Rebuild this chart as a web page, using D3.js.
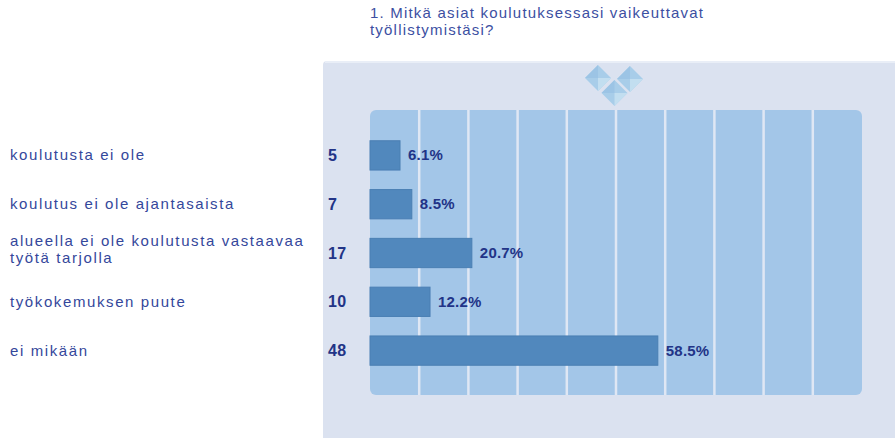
<!DOCTYPE html>
<html>
<head>
<meta charset="utf-8">
<script src="https://cdn.jsdelivr.net/npm/d3@7"></script>
<style>
  body { margin: 0; background: #ffffff; }
  svg { display: block; font-family: "Liberation Sans", Arial, sans-serif; }
</style>
</head>
<body>
<div id="chart"></div>
<script>
var titleLines = ["1. Mitkä asiat koulutuksessasi vaikeuttavat", "työllistymistäsi?"];
var categories = ["koulutusta ei ole", "koulutus ei ole ajantasaista", "alueella ei ole koulutusta vastaavaa työtä tarjolla", "työkokemuksen puute", "ei mikään"];
var labelLines = [["koulutusta ei ole"], ["koulutus ei ole ajantasaista"], ["alueella ei ole koulutusta vastaavaa", "työtä tarjolla"], ["työkokemuksen puute"], ["ei mikään"]];
var counts = [5, 7, 17, 10, 48];
var percents = [6.1, 8.5, 20.7, 12.2, 58.5];

var width = 895, height = 438;

var svg = d3.select("#chart").append("svg")
	.attr("width", width)
	.attr("height", height);

// outer panel
svg.append("rect")
	.attr("x", 323).attr("y", 61)
	.attr("width", 600).attr("height", 400)
	.attr("rx", 4)
	.attr("fill", "#dbe2f0");
svg.append("rect")
	.attr("x", 325).attr("y", 61)
	.attr("width", 600).attr("height", 2)
	.attr("fill", "#e9eef7");

var x = d3.scaleLinear().domain([0, 100]).range([370, 862]);
var y = d3.scaleBand().domain(categories).range([131, 375]).paddingInner(0.4).paddingOuter(0.2);

// plot area
svg.append("rect")
	.attr("x", x(0)).attr("y", 110)
	.attr("width", x(100) - x(0)).attr("height", 285)
	.attr("rx", 6)
	.attr("fill", "#a3c6e8");

// grid lines
svg.append("g").selectAll("line")
	.data(x.ticks(10).filter(function(d){ return d > 0 && d < 100; }))
	.join("line")
	.attr("x1", function(d){ return x(d); })
	.attr("x2", function(d){ return x(d); })
	.attr("y1", 110).attr("y2", 395)
	.attr("stroke", "#dfe7f4")
	.attr("stroke-width", 2.5);

// diamond decoration
var deco = svg.append("g");
var diamonds = [[598, 78], [630, 79], [614.5, 93]];
diamonds.forEach(function(c){
	var r = 13;
	var cx = c[0], cy = c[1];
	deco.append("path")
		.attr("d", "M" + cx + "," + (cy - r) + "L" + (cx + r) + "," + cy + "L" + cx + "," + (cy + r) + "L" + (cx - r) + "," + cy + "Z")
		.attr("fill", "#a8cde9");
	deco.append("path")
		.attr("d", "M" + cx + "," + cy + "L" + (cx + r) + "," + cy + "L" + cx + "," + (cy + r) + "Z")
		.attr("fill", "#c2def0");
	deco.append("path")
		.attr("d", "M" + cx + "," + (cy - r) + "L" + (cx - r) + "," + cy + "L" + cx + "," + cy + "Z")
		.attr("fill", "#9cc4e5");
});

// bars
svg.append("g").selectAll("rect")
	.data(categories)
	.join("rect")
	.attr("x", x(0))
	.attr("y", function(d){ return y(d); })
	.attr("width", function(d, i){ return x(percents[i]) - x(0); })
	.attr("height", y.bandwidth())
	.attr("fill", "#5188bd")
	.attr("stroke", "#4a7fb3")
	.attr("stroke-width", 1);

// percent labels
svg.append("g").selectAll("text")
	.data(categories)
	.join("text")
	.attr("x", function(d, i){ return x(percents[i]) + 8; })
	.attr("y", function(d){ return y(d) + y.bandwidth() / 2 + 5; })
	.attr("font-size", "15px")
	.attr("font-weight", "bold")
	.attr("letter-spacing", "0.2px")
	.attr("fill", "#223487")
	.text(function(d, i){ return percents[i].toFixed(1) + "%"; });

// count labels
svg.append("g").selectAll("text")
	.data(categories)
	.join("text")
	.attr("x", 328)
	.attr("y", function(d){ return y(d) + y.bandwidth() / 2 + 5.5; })
	.attr("font-size", "16px")
	.attr("font-weight", "bold")
	.attr("letter-spacing", "0.3px")
	.attr("fill", "#223487")
	.text(function(d, i){ return counts[i]; });

// category labels
var cat = svg.append("g").selectAll("text")
	.data(categories)
	.join("text")
	.attr("x", 10)
	.attr("y", function(d, i){
		var c = y(d) + y.bandwidth() / 2;
		return labelLines[i].length > 1 ? c - 7.5 : c + 5;
	})
	.attr("font-size", "15px")
	.attr("letter-spacing", "1.6px")
	.attr("fill", "#34479b");
cat.selectAll("tspan")
	.data(function(d, i){ return labelLines[i]; })
	.join("tspan")
	.attr("x", 10)
	.attr("dy", function(d, j){ return j === 0 ? 0 : 17; })
	.text(function(d){ return d; });

// title
svg.append("text")
	.attr("x", 370).attr("y", 18)
	.attr("font-size", "15px")
	.attr("letter-spacing", "1.2px")
	.attr("fill", "#3c4fa2")
	.selectAll("tspan")
	.data(titleLines)
	.join("tspan")
	.attr("x", 370)
	.attr("dy", function(d, j){ return j === 0 ? 0 : 17; })
	.text(function(d){ return d; });
</script>
</body>
</html>
